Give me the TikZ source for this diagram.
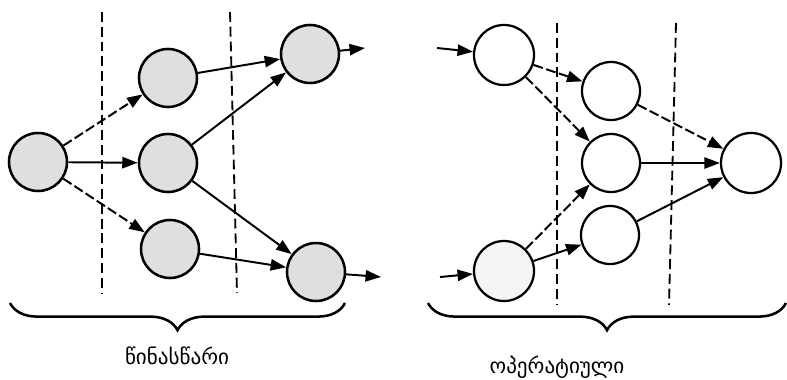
\documentclass[tikz,border=0pt]{standalone}
\usepackage{fontspec}
\newfontfamily\geofont{DejaVu Sans}
\usetikzlibrary{arrows.meta,decorations.pathreplacing}

\begin{document}
\begin{tikzpicture}[x=0.025cm,y=-0.025cm,
  dotnode/.style={circle,draw,line width=1.8pt,minimum size=1.45cm,inner sep=0pt,fill=gray!25},
  plainnode/.style={circle,draw,line width=1.6pt,minimum size=1.5cm,inner sep=0pt},
  link/.style={-{Triangle[length=11pt,width=8pt]},line width=1.4pt},
  dlink/.style={link,dash pattern=on 7pt off 2.5pt},
  sep/.style={line width=1.3pt,dash pattern=on 7pt off 3.5pt},
  grp/.style={decorate,decoration={brace,mirror,amplitude=0.68cm},line width=1.8pt},
  lbl/.style={font=\geofont\fontsize{15}{18}\selectfont}]
  \useasboundingbox (0,0) rectangle (787,380);
  % separators
  \draw[sep] (102,12) -- (102,293);
  \draw[sep] (230,12) -- (237,293);
  \draw[sep] (557,23) -- (557,305);
  \draw[sep] (676,23) -- (669,305);
  % left part: nodes
  \node[dotnode] (A) at (38,162) {};
  \node[dotnode] (B1) at (168,78) {};
  \node[dotnode] (B2) at (168,163) {};
  \node[dotnode] (B3) at (170,249) {};
  \node[dotnode] (C1) at (310,54) {};
  \node[dotnode] (C2) at (316,272) {};
  \coordinate (out1) at (365,48);
  \coordinate (out2) at (381,277);
  % left part: links
  \draw[dlink] (A) -- (B1);
  \draw[link] (A) -- (B2);
  \draw[dlink] (A) -- (B3);
  \draw[link] (B1) -- (C1);
  \draw[link] (B2) -- (C1);
  \draw[link] (B2) -- (C2);
  \draw[link] (B3) -- (C2);
  \draw[link] (C1) -- (out1);
  \draw[link] (C2) -- (out2);
  % right part: nodes
  \node[plainnode] (R1) at (504,55) {};
  \node[plainnode,fill=gray!8] (R2) at (504,271) {};
  \node[plainnode,minimum size=1.45cm] (M1) at (611,91) {};
  \node[plainnode,minimum size=1.45cm] (M2) at (611,163) {};
  \node[plainnode,minimum size=1.45cm] (M3) at (610,235) {};
  \node[plainnode] (F) at (751,163) {};
  \coordinate (in1) at (437,48);
  \coordinate (in2) at (440,277);
  % right part: links
  \draw[link] (in1) -- (R1);
  \draw[link] (in2) -- (R2);
  \draw[dlink] (R1) -- (M1);
  \draw[dlink] (R1) -- (M2);
  \draw[dlink] (R2) -- (M2);
  \draw[link] (R2) -- (M3);
  \draw[dlink] (M1) -- (F);
  \draw[link] (M2) -- (F);
  \draw[link] (M3) -- (F);
  % braces and captions
  \draw[grp] (10,303) -- (345,303);
  \draw[grp] (428,303) -- (786,303);
  \node[lbl] (lblPre) at (177,356) {წინასწარი};
  \node[lbl] (lblOp) at (557,367) {ოპერატიული};
\end{tikzpicture}
\end{document}
